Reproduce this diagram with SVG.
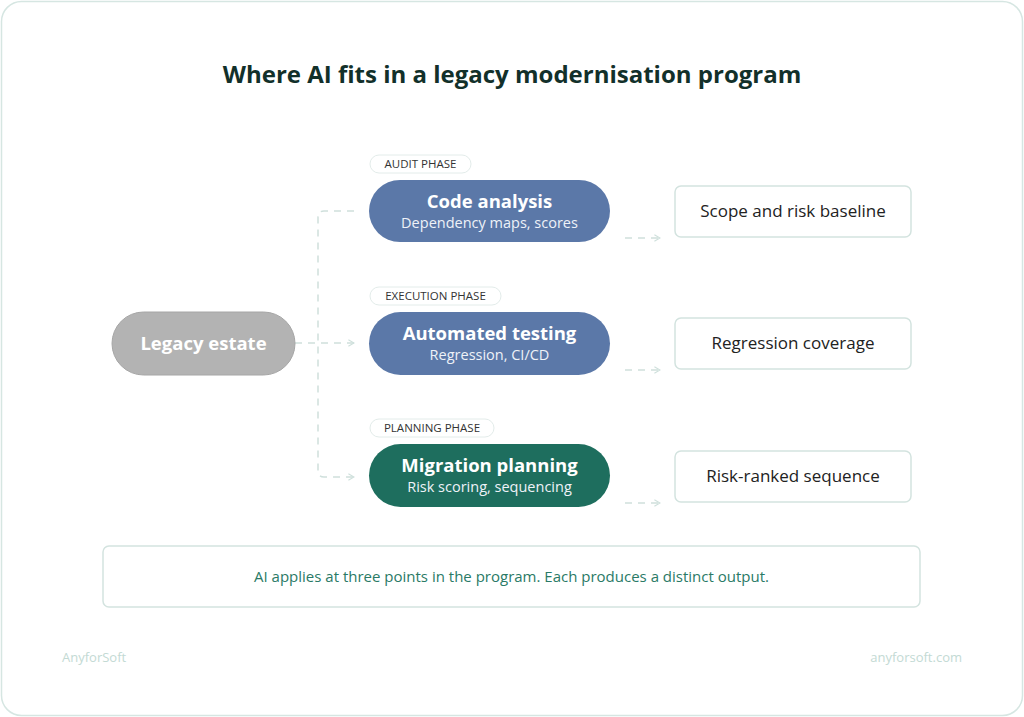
<svg xmlns="http://www.w3.org/2000/svg" width="1024" height="717" viewBox="0 0 1024 717">
<style>
text{font-family:"Open Sans","Liberation Sans",sans-serif}
.t{font-size:18.5px;font-weight:700;fill:#fff;text-anchor:middle}
.s{font-size:14.5px;fill:#eef2f8;text-anchor:middle}
.ph{font-size:11.5px;fill:#333;text-anchor:middle}
.pp{fill:#fff;stroke:#e3ecea}
.o{fill:#fff;stroke:#d3e3df;stroke-width:1.5}
.ot{font-size:17px;fill:#222;text-anchor:middle}
.c{fill:none;stroke:#cfe0dc;stroke-width:1.5;stroke-dasharray:7 6}
</style>
<defs><marker id="a" viewBox="0 0 10 10" refX="9" refY="5" markerWidth="8" markerHeight="8" orient="auto" markerUnits="userSpaceOnUse"><path d="M2 1L9 5L2 9" fill="none" stroke="#cfe0dc" stroke-width="1.5"/></marker></defs>
<rect x="1.5" y="1.5" width="1021" height="714" rx="20" fill="#fff" stroke="#d6e6e2" stroke-width="1.5"/>
<text x="512" y="83" text-anchor="middle" font-size="24" font-weight="700" fill="#12302a">Where AI fits in a legacy modernisation program</text>
<g id="connectors">
<path class="c" d="M295 343H354" marker-end="url(#a)"/>
<path class="c" d="M354 211H324Q318 211 318 217V471Q318 477 324 477H354" marker-end="url(#a)"/>
<path class="c" d="M625 238H660" marker-end="url(#a)"/>
<path class="c" d="M625 370H660" marker-end="url(#a)"/>
<path class="c" d="M625 503H660" marker-end="url(#a)"/>
</g>
<g id="legacy"><rect x="112" y="312" width="183" height="63" rx="31.5" fill="#b3b3b3" stroke="#a6a6a6"/><text x="203.5" y="350" class="t" font-size="19">Legacy estate</text></g>
<g id="audit-label"><rect class="pp" x="370" y="155" width="101" height="18" rx="9"/><text class="ph" x="420.5" y="168">AUDIT PHASE</text></g>
<g id="code"><rect x="369" y="180" width="241" height="62" rx="31" fill="#5b78a8"/><text class="t" x="489.5" y="208">Code analysis</text><text class="s" x="489.5" y="228">Dependency maps, scores</text></g>
<g id="exec-label"><rect class="pp" x="370" y="287" width="131" height="18" rx="9"/><text class="ph" x="435.5" y="300">EXECUTION PHASE</text></g>
<g id="testing"><rect x="369" y="312" width="241" height="63" rx="31.5" fill="#5b78a8"/><text class="t" x="489.5" y="340">Automated testing</text><text class="s" x="489.5" y="360">Regression, CI/CD</text></g>
<g id="plan-label"><rect class="pp" x="370" y="419" width="124" height="18" rx="9"/><text class="ph" x="432" y="432">PLANNING PHASE</text></g>
<g id="migration"><rect x="369" y="444" width="241" height="63" rx="31.5" fill="#1e6e5e"/><text class="t" x="489.5" y="472">Migration planning</text><text class="s" x="489.5" y="492">Risk scoring, sequencing</text></g>
<g id="out1"><rect class="o" x="675" y="186" width="236" height="51" rx="6"/><text class="ot" x="793" y="217">Scope and risk baseline</text></g>
<g id="out2"><rect class="o" x="675" y="318" width="236" height="51" rx="6"/><text class="ot" x="793" y="349">Regression coverage</text></g>
<g id="out3"><rect class="o" x="675" y="451" width="236" height="51" rx="6"/><text class="ot" x="793" y="482">Risk-ranked sequence</text></g>
<g id="note"><rect class="o" x="103" y="546" width="817" height="61" rx="6"/><text x="511.5" y="582" text-anchor="middle" font-size="15" fill="#2a7a66">AI applies at three points in the program. Each produces a distinct output.</text></g>
<text x="62" y="662" font-size="13" fill="#c3dad4">AnyforSoft</text>
<text x="962" y="662" font-size="13" fill="#c3dad4" text-anchor="end">anyforsoft.com</text>
</svg>
